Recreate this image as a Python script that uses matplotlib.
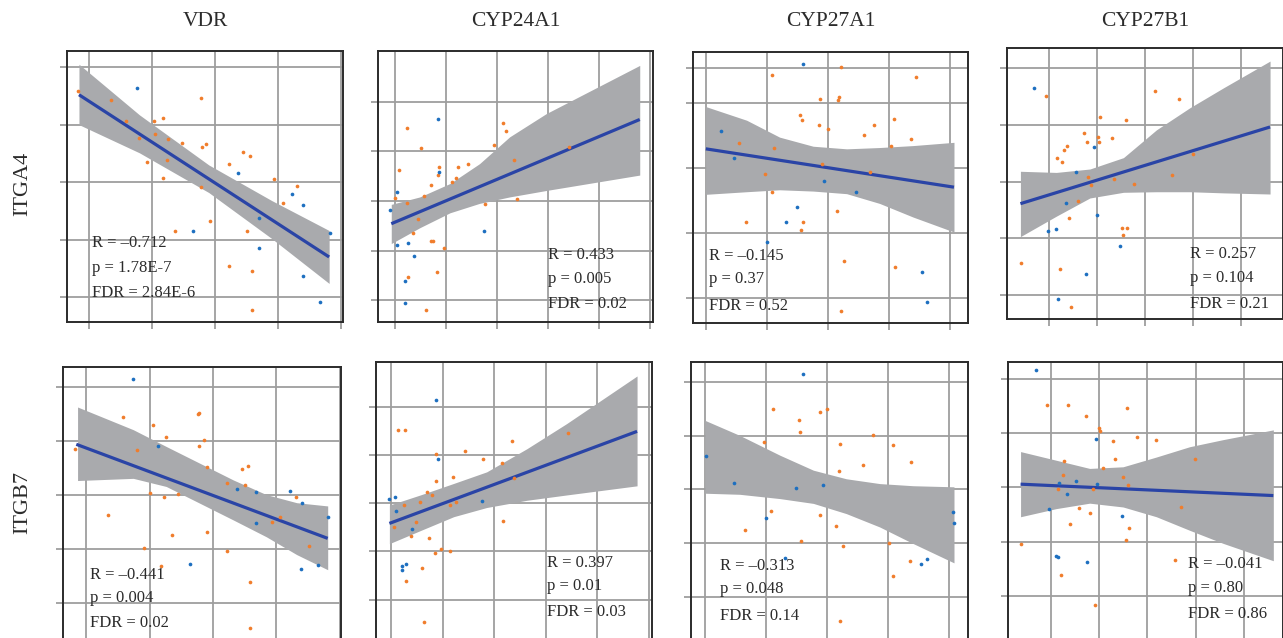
import numpy as np
import matplotlib.pyplot as plt

plt.rcParams['font.family'] = ['Liberation Serif', 'DejaVu Serif']

genes = ["VDR", "CYP24A1", "CYP27A1", "CYP27B1"]
integrins = ["ITGA4", "ITGB7"]

# ---- scatter values in grid units (orange / blue groups)
# ITGA4 row
vdr_a4_ox = [-0.17, 0.35, 1.77, 0.59, 1.03, 1.18, 0.80, 1.05, 1.26, 1.47, 1.80, 1.86, 0.92, 1.24, 1.18, 2.45, 2.56, 2.22,
             1.78, 2.93, 3.30, 3.07, 1.92, 1.36, 2.50, 2.22, 2.59, 2.59]
vdr_a4_oy = [3.58, 3.42, 3.47, 3.07, 3.06, 3.12, 2.77, 2.83, 2.75, 2.68, 2.61, 2.67, 2.35, 2.38, 2.08, 2.53, 2.45, 2.32,
             1.92, 2.05, 1.94, 1.63, 1.33, 1.16, 1.16, 0.54, 0.45, -0.23]
vdr_a4_bx = [0.76, 2.37, 3.22, 3.40, 2.70, 1.65, 3.83, 2.70, 3.39, 3.66]
vdr_a4_by = [3.63, 2.16, 1.80, 1.61, 1.38, 1.16, 1.12, 0.85, 0.37, -0.08]

cyp24_a4_ox = [0.23, 0.51, 2.11, 2.16, 1.93, 3.41, 2.32, 0.08, 0.86, 0.83, 1.23, 1.42, 1.18, 1.11, 0.69, -0.01, 0.56, 0.22,
               1.75, 2.39, 0.44, 0.35, 0.69, 0.74, 0.95, 0.82, 0.25, 0.60]
cyp24_a4_oy = [3.46, 3.06, 3.57, 3.41, 3.12, 3.09, 2.83, 2.62, 2.68, 2.52, 2.68, 2.74, 2.46, 2.39, 2.32, 2.06, 2.09, 1.95,
               1.93, 2.03, 1.63, 1.35, 1.19, 1.19, 1.05, 0.57, 0.47, -0.20]
cyp24_a4_bx = [0.83, 0.86, 0.04, -0.10, 1.74, 0.04, 0.25, 0.36, 0.18, 0.18]
cyp24_a4_by = [3.64, 2.59, 2.17, 1.81, 1.40, 1.12, 1.15, 0.89, 0.38, -0.05]

cyp27a_a4_ox = [2.21, 1.09, 3.44, 1.88, 2.19, 2.17, 1.54, 1.57, 1.85, 2.00, 2.76, 3.08, 2.60, 3.37, 3.04, 0.55, 1.12, 1.90,
                2.70, 0.97, 1.09, 2.15, 0.66, 1.60, 1.56, 2.26, 3.10, 2.22]
cyp27a_a4_oy = [3.55, 3.43, 3.39, 3.06, 3.08, 3.04, 2.81, 2.73, 2.66, 2.60, 2.66, 2.75, 2.51, 2.44, 2.34, 2.38, 2.31, 2.05,
                1.93, 1.91, 1.63, 1.34, 1.16, 1.17, 1.04, 0.57, 0.47, -0.20]
cyp27a_a4_bx = [1.60, 0.25, 0.47, 1.94, 2.47, 1.50, 1.32, 1.01, 3.55, 3.63]
cyp27a_a4_by = [3.60, 2.57, 2.15, 1.79, 1.62, 1.39, 1.16, 0.86, 0.39, -0.06]

cyp27b_a4_ox = [-0.06, 2.20, 2.71, 1.06, 1.60, 0.73, 0.79, 1.02, 1.05, 1.31, 0.38, 0.30, 0.17, 0.27, 3.00, 0.82, 0.87, 1.35,
                1.78, 2.57, 0.61, 0.41, 1.51, 1.62, 1.55, -0.59, 0.22, 0.45]
cyp27b_a4_oy = [3.50, 3.60, 3.45, 3.13, 3.09, 2.85, 2.70, 2.79, 2.69, 2.77, 2.63, 2.55, 2.42, 2.34, 2.49, 2.08, 1.94, 2.04,
                1.95, 2.11, 1.65, 1.35, 1.18, 1.18, 1.05, 0.57, 0.46, -0.21]
cyp27b_a4_bx = [-0.31, 0.94, 0.56, 0.36, 1.00, -0.02, 0.14, 1.48, 0.76, 0.19]
cyp27b_a4_by = [3.65, 2.61, 2.16, 1.62, 1.41, 1.13, 1.17, 0.87, 0.38, -0.07]

# ITGB7 row
vdr_b7_ox = [0.57, 1.78, 1.76, 1.05, 1.26, 1.86, 1.77, -0.18, 0.80, 1.91, 2.45, 2.55, 2.22, 2.50, 3.31, 1.01, 1.23, 1.45,
             0.34, 2.93, 3.06, 1.35, 1.90, 0.91, 2.22, 3.51, 1.18, 2.58, 2.58]
vdr_b7_oy = [3.44, 3.51, 3.50, 3.30, 3.07, 3.02, 2.90, 2.85, 2.84, 2.52, 2.48, 2.54, 2.22, 2.18, 1.96, 2.04, 1.96, 2.02,
             1.64, 1.51, 1.60, 1.26, 1.32, 1.02, 0.97, 1.05, 0.69, 0.40, -0.45]
vdr_b7_bx = [0.74, 1.13, 2.37, 2.68, 3.21, 3.40, 2.68, 3.82, 1.64, 3.39, 3.66]
vdr_b7_by = [4.14, 2.90, 2.11, 2.05, 2.08, 1.85, 1.48, 1.60, 0.73, 0.63, 0.71]

cyp24_b7_ox = [0.12, 0.26, 3.42, 2.34, 1.43, 0.87, 1.77, 2.14, 1.20, 0.86, 2.38, 0.70, 0.79, 0.55, 0.25, 1.13, 1.25, 2.17,
               0.47, 0.04, 0.38, 0.72, 0.96, 0.85, 1.14, 0.60, 0.28, 0.63]
cyp24_b7_oy = [3.52, 3.52, 3.45, 3.29, 3.08, 3.02, 2.91, 2.84, 2.54, 2.47, 2.52, 2.24, 2.17, 2.03, 1.97, 1.97, 2.02, 1.64,
               1.61, 1.51, 1.31, 1.27, 1.04, 0.97, 1.00, 0.65, 0.39, -0.46]
cyp24_b7_bx = [0.86, 0.90, -0.05, 0.06, 0.08, 1.76, 0.39, 0.28, 0.20, 0.21]
cyp24_b7_by = [4.15, 2.91, 2.08, 2.12, 1.84, 2.04, 1.47, 0.73, 0.70, 0.61]

cyp27a_b7_ox = [1.11, 1.89, 2.00, 1.55, 1.56, 2.76, 0.97, 2.22, 3.09, 3.38, 2.60, 2.20, 1.09, 1.89, 2.15, 0.65, 1.57, 2.27,
                3.03, 3.36, 3.09, 2.21]
cyp27a_b7_oy = [3.50, 3.45, 3.51, 3.30, 3.08, 3.01, 2.89, 2.85, 2.83, 2.52, 2.46, 2.35, 1.60, 1.52, 1.32, 1.25, 1.03, 0.94,
                1.01, 0.66, 0.39, -0.45]
cyp27a_b7_bx = [1.61, 0.01, 0.47, 1.50, 1.94, 1.01, 4.08, 4.09, 1.32, 3.64, 3.55]
cyp27a_b7_by = [4.15, 2.63, 2.12, 2.03, 2.08, 1.47, 1.58, 1.38, 0.73, 0.70, 0.61]

cyp27b_b7_ox = [-0.07, 0.37, 1.58, 0.73, 1.01, 1.03, 1.29, 1.78, 2.19, 1.34, 2.99, 0.28, 1.08, 0.26, 1.50, 1.61, 0.16, 0.88,
                2.70, 0.59, 0.81, 0.41, 1.62, 1.56, -0.61, 2.57, 0.22, 0.91]
cyp27b_b7_oy = [3.52, 3.52, 3.47, 3.31, 3.09, 3.04, 2.85, 2.92, 2.88, 2.53, 2.53, 2.48, 2.36, 2.23, 2.20, 2.04, 1.98, 1.98,
                1.64, 1.63, 1.52, 1.33, 1.26, 1.04, 0.96, 0.67, 0.39, -0.17]
cyp27b_b7_bx = [-0.30, 0.94, 0.18, 0.53, 0.96, 0.34, -0.04, 1.47, 0.11, 0.16, 0.75]
cyp27b_b7_by = [4.16, 2.90, 2.09, 2.12, 2.06, 1.87, 1.60, 1.48, 0.74, 0.71, 0.63]

# regression lines (None = no line drawn) and confidence bands
fit_x = [[-0.16, 3.81], [-0.08, 4.79], [0.0, 4.07], [-0.60, 4.61],
         [-0.16, 3.81], [-0.04, 4.77], None, [-0.62, 4.61]]
fit_y = [[3.52, 0.70], [1.54, 3.64], [2.29, 1.70], [1.61, 2.96],
         [2.94, 1.20], [1.58, 3.49], None, [2.06, 1.85]]
band_x = [[-0.16, 0.8, 1.9, 2.9, 3.81],
          [-0.08, 0.48, 1.07, 1.65, 2.24, 2.96, 4.79],
          [0.0, 0.67, 1.21, 1.76, 2.31, 2.85, 3.40, 4.07],
          [-0.60, 0.15, 0.85, 1.55, 2.24, 2.94, 3.64, 4.61],
          [-0.14, 0.74, 1.26, 1.79, 2.32, 2.84, 3.32, 3.81],
          [-0.04, 0.56, 1.21, 1.85, 2.63, 3.40, 4.77],
          [0.0, 0.57, 1.23, 1.78, 2.32, 2.87, 3.42, 4.09],
          [-0.62, 0.12, 0.81, 1.50, 2.19, 2.88, 3.57, 4.61]]
band_hi = [[4.05, 3.17, 2.30, 1.68, 1.16],
           [1.93, 2.08, 2.35, 2.75, 3.29, 3.76, 4.73],
           [2.94, 2.73, 2.47, 2.33, 2.29, 2.31, 2.34, 2.39],
           [2.18, 2.16, 2.22, 2.42, 2.91, 3.30, 3.65, 4.12],
           [3.63, 3.21, 2.90, 2.59, 2.28, 2.01, 1.86, 1.80],
           [1.96, 2.17, 2.41, 2.65, 3.13, 3.65, 4.64],
           [3.29, 3.01, 2.64, 2.36, 2.20, 2.11, 2.07, 2.05],
           [2.66, 2.50, 2.35, 2.38, 2.56, 2.75, 2.88, 3.06]]
band_lo = [[3.00, 2.51, 1.82, 1.02, 0.24],
           [1.14, 1.46, 1.76, 1.95, 2.08, 2.21, 2.52],
           [1.59, 1.63, 1.66, 1.64, 1.60, 1.45, 1.24, 1.01],
           [1.03, 1.39, 1.71, 1.81, 1.82, 1.82, 1.80, 1.78],
           [2.27, 2.31, 2.16, 1.85, 1.54, 1.23, 0.90, 0.62],
           [1.16, 1.43, 1.72, 1.91, 2.06, 2.17, 2.36],
           [1.93, 1.91, 1.83, 1.74, 1.55, 1.30, 0.99, 0.63],
           [1.46, 1.61, 1.71, 1.64, 1.46, 1.21, 0.97, 0.65]]

r_vals = ["–0.712", "0.433", "–0.145", "0.257", "–0.441", "0.397", "–0.313", "–0.041"]
p_vals = ["1.78E-7", "0.005", "0.37", "0.104", "0.004", "0.01", "0.048", "0.80"]
fdr_vals = ["2.84E-6", "0.02", "0.52", "0.21", "0.02", "0.03", "0.14", "0.86"]

orange_x = [vdr_a4_ox, cyp24_a4_ox, cyp27a_a4_ox, cyp27b_a4_ox, vdr_b7_ox, cyp24_b7_ox, cyp27a_b7_ox, cyp27b_b7_ox]
orange_y = [vdr_a4_oy, cyp24_a4_oy, cyp27a_a4_oy, cyp27b_a4_oy, vdr_b7_oy, cyp24_b7_oy, cyp27a_b7_oy, cyp27b_b7_oy]
blue_x = [vdr_a4_bx, cyp24_a4_bx, cyp27a_a4_bx, cyp27b_a4_bx, vdr_b7_bx, cyp24_b7_bx, cyp27a_b7_bx, cyp27b_b7_bx]
blue_y = [vdr_a4_by, cyp24_a4_by, cyp27a_a4_by, cyp27b_a4_by, vdr_b7_by, cyp24_b7_by, cyp27a_b7_by, cyp27b_b7_by]

# ---- layout (pixels: left, top, right, bottom), axis limits, gridlines, stat text position
W, H = 1283, 638
boxes = [(67, 51, 343, 322), (378, 51, 653, 322), (693, 52, 968, 323), (1007, 48, 1283, 319),
         (63, 367, 341, 640), (376, 362, 652, 640), (691, 362, 968, 640), (1008, 362, 1283, 640)]
xlims = [(-0.35, 4.03), (-0.34, 5.05), (-0.21, 4.30), (-0.88, 4.88),
         (-0.37, 4.02), (-0.30, 5.06), (-0.23, 4.32), (-0.88, 4.81)]
ylims = [(-0.43, 4.28), (-0.44, 5.02), (-0.39, 3.78), (-0.42, 4.35),
         (-0.68, 4.37), (-0.84, 4.93), (-0.81, 4.38), (-0.81, 4.31)]
xgrid = [5, 6, 5, 5, 5, 6, 5, 5]
ygrid = [[0, 1, 2, 3, 4], [0, 1, 2, 3, 4], [0, 1, 2, 3, 3.53], [0, 1, 2, 3, 4],
         [0, 1, 2, 3, 4], [0, 1, 2, 3, 4], [0, 1, 2, 3, 4], [0, 1, 2, 3, 4]]
txt_pos = [(0.09, [0.29, 0.20, 0.107]), (0.62, [0.247, 0.159, 0.066]),
           (0.058, [0.247, 0.162, 0.063]), (0.663, [0.24, 0.15, 0.055]),
           (0.097, [0.238, 0.154, 0.062]), (0.62, [0.277, 0.194, 0.10]),
           (0.105, [0.266, 0.183, 0.086]), (0.655, [0.273, 0.187, 0.094])]

orange = '#f07d2c'
blue = '#1d6fc0'
ink = '#2b2b2b'

fig = plt.figure(figsize=(W / 100, H / 100), dpi=100)

for i in range(8):
    l, t, r, b = boxes[i]
    ax = fig.add_axes([l / W, 1 - b / H, (r - l) / W, (b - t) / H])
    ax.set_xlim(*xlims[i])
    ax.set_ylim(*ylims[i])
    ax.set_xticks(np.arange(xgrid[i]))
    ax.set_yticks(ygrid[i])
    ax.set_axisbelow(True)
    ax.grid(color='#9e9e9e', lw=1.3)
    ax.tick_params(length=5, width=1.3, color='#9e9e9e', labelbottom=False, labelleft=False)
    for s in ax.spines.values():
        s.set_color(ink)
        s.set_linewidth(1.4)

    ax.fill_between(band_x[i], band_lo[i], band_hi[i], color='#a9aaad', lw=0, zorder=2)
    if fit_x[i] is not None:
        ax.plot(fit_x[i], fit_y[i], color='#2a44a6', lw=2.3, zorder=3, solid_capstyle='butt')

    ax.scatter(orange_x[i], orange_y[i], s=7, color=orange, lw=0, zorder=4)
    ax.scatter(blue_x[i], blue_y[i], s=7, color=blue, lw=0, zorder=4)

    tx, tys = txt_pos[i]
    lines = ["R = " + r_vals[i], "p = " + p_vals[i], "FDR = " + fdr_vals[i]]
    for s, ty in zip(lines, tys):
        ax.text(tx, ty, s, transform=ax.transAxes, fontsize=12, color=ink,
                va='center', ha='left', zorder=5)

    if i < 4:
        fig.text((l + r) / 2 / W, 1 - 21 / H, genes[i], ha='center', va='center',
                 fontsize=15.5, color=ink)

fig.text(23 / W, 1 - 184 / H, integrins[0], rotation=90, ha='center', va='center',
         fontsize=16, color=ink)
fig.text(23 / W, 1 - 502 / H, integrins[1], rotation=90, ha='center', va='center',
         fontsize=16, color=ink)

fig.savefig('out.png', dpi=100)
